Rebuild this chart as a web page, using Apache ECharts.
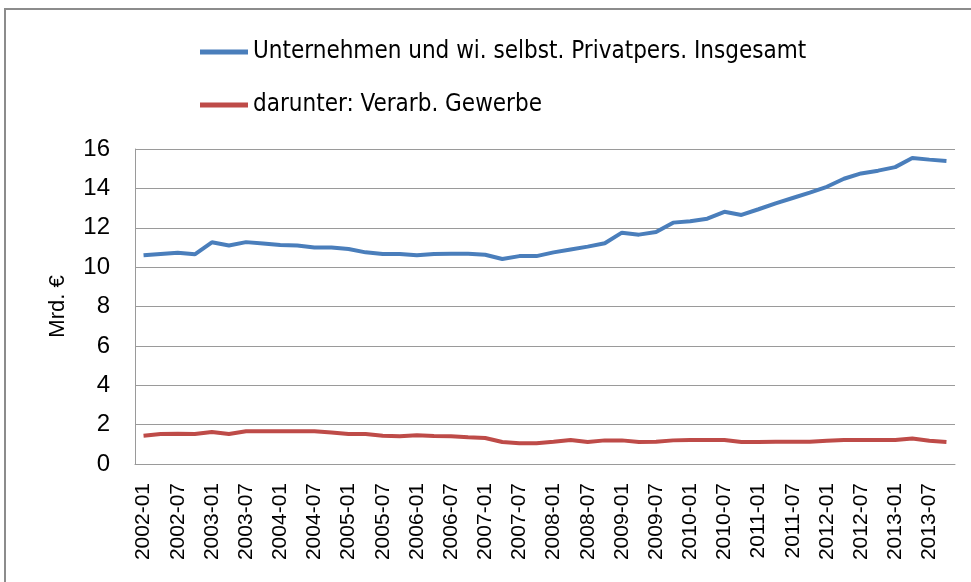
<!DOCTYPE html>
<html>
<head>
<meta charset="utf-8">
<script src="https://cdn.jsdelivr.net/npm/echarts@6/dist/echarts.min.js"></script>
<style>
  html, body { margin: 0; padding: 0; background: #fff; }
  #chart { width: 971px; height: 582px; }
</style>
</head>
<body>
<div id="chart"></div>
<script>
  // Quartale 2002-01 .. 2013-10
  var quartale = [
    '2002-01', '2002-04', '2002-07', '2002-10',
    '2003-01', '2003-04', '2003-07', '2003-10',
    '2004-01', '2004-04', '2004-07', '2004-10',
    '2005-01', '2005-04', '2005-07', '2005-10',
    '2006-01', '2006-04', '2006-07', '2006-10',
    '2007-01', '2007-04', '2007-07', '2007-10',
    '2008-01', '2008-04', '2008-07', '2008-10',
    '2009-01', '2009-04', '2009-07', '2009-10',
    '2010-01', '2010-04', '2010-07', '2010-10',
    '2011-01', '2011-04', '2011-07', '2011-10',
    '2012-01', '2012-04', '2012-07', '2012-10',
    '2013-01', '2013-04', '2013-07', '2013-10'
  ]
  // Unternehmen und wi. selbst. Privatpers. Insgesamt (Mrd. €)
  var insgesamt = [
    10.60, 10.67, 10.73, 10.65,
    11.26, 11.10, 11.27, 11.20,
    11.12, 11.10, 11.00, 11.00,
    10.92, 10.75, 10.67, 10.67,
    10.60, 10.67, 10.68, 10.68,
    10.63, 10.41, 10.56, 10.56,
    10.75, 10.90, 11.04, 11.21,
    11.75, 11.65, 11.78, 12.26,
    12.33, 12.46, 12.81, 12.65,
    12.94, 13.24, 13.51, 13.78,
    14.08, 14.49, 14.76, 14.90,
    15.08, 15.54, 15.46, 15.39
  ]
  // darunter: Verarb. Gewerbe (Mrd. €)
  var verarbGewerbe = [
    1.44, 1.52, 1.54, 1.52,
    1.62, 1.52, 1.66, 1.66,
    1.66, 1.66, 1.66, 1.60,
    1.52, 1.52, 1.44, 1.41,
    1.46, 1.42, 1.41, 1.36,
    1.32, 1.12, 1.05, 1.05,
    1.13, 1.22, 1.12, 1.20,
    1.20, 1.12, 1.13, 1.20,
    1.22, 1.22, 1.22, 1.12,
    1.12, 1.13, 1.13, 1.13,
    1.18, 1.22, 1.22, 1.22,
    1.22, 1.29, 1.18, 1.12
  ]
  var serienNamen = ['Unternehmen und wi. selbst. Privatpers. Insgesamt', 'darunter: Verarb. Gewerbe']

  var schrift = "'Liberation Sans', Arial, sans-serif"
  var myChart = echarts.init(document.getElementById('chart'))
  myChart.setOption({
    animation: false,
    backgroundColor: '#fff',
    graphic: [{
      type: 'rect',
      shape: { x: 5, y: 9, width: 2000, height: 2000 },
      style: { fill: 'none', stroke: '#8c8c8c', lineWidth: 2 },
      silent: true
    }],
    legend: {
      orient: 'vertical',
      left: 195,
      top: 35,
      icon: 'rect',
      itemWidth: 48,
      itemHeight: 5,
      itemGap: 29,
      textStyle: { fontSize: 24, color: '#000', fontFamily: "'DejaVu Sans Condensed', 'Liberation Sans Narrow', sans-serif" },
      data: serienNamen
    },
    grid: {
      left: 135,
      right: 16,
      top: 149,
      bottom: 118
    },
    xAxis: {
      type: 'category',
      boundaryGap: true,
      data: quartale,
      axisLine: { lineStyle: { color: '#9a9a9a', width: 1 } },
      axisTick: { show: false },
      axisLabel: {
        interval: 1,
        rotate: 90,
        margin: 19,
        fontSize: 21,
        color: '#000',
        fontFamily: schrift
      }
    },
    yAxis: {
      type: 'value',
      min: 0,
      max: 16,
      interval: 2,
      name: 'Mrd. €',
      nameLocation: 'middle',
      nameGap: 66,
      nameTextStyle: { fontSize: 22, color: '#000', fontFamily: schrift },
      axisLine: { show: true, lineStyle: { color: '#9a9a9a', width: 1 } },
      axisTick: { show: false },
      axisLabel: { margin: 25, fontSize: 24, color: '#000', fontFamily: schrift },
      splitLine: { lineStyle: { color: '#9a9a9a', width: 1 } }
    },
    series: [
      {
        name: serienNamen[0],
        type: 'line',
        data: insgesamt,
        showSymbol: false,
        lineStyle: { width: 4, color: '#4a7ebb' },
        itemStyle: { color: '#4a7ebb' }
      },
      {
        name: serienNamen[1],
        type: 'line',
        data: verarbGewerbe,
        showSymbol: false,
        lineStyle: { width: 4, color: '#be4b48' },
        itemStyle: { color: '#be4b48' }
      }
    ]
  })
</script>
</body>
</html>
